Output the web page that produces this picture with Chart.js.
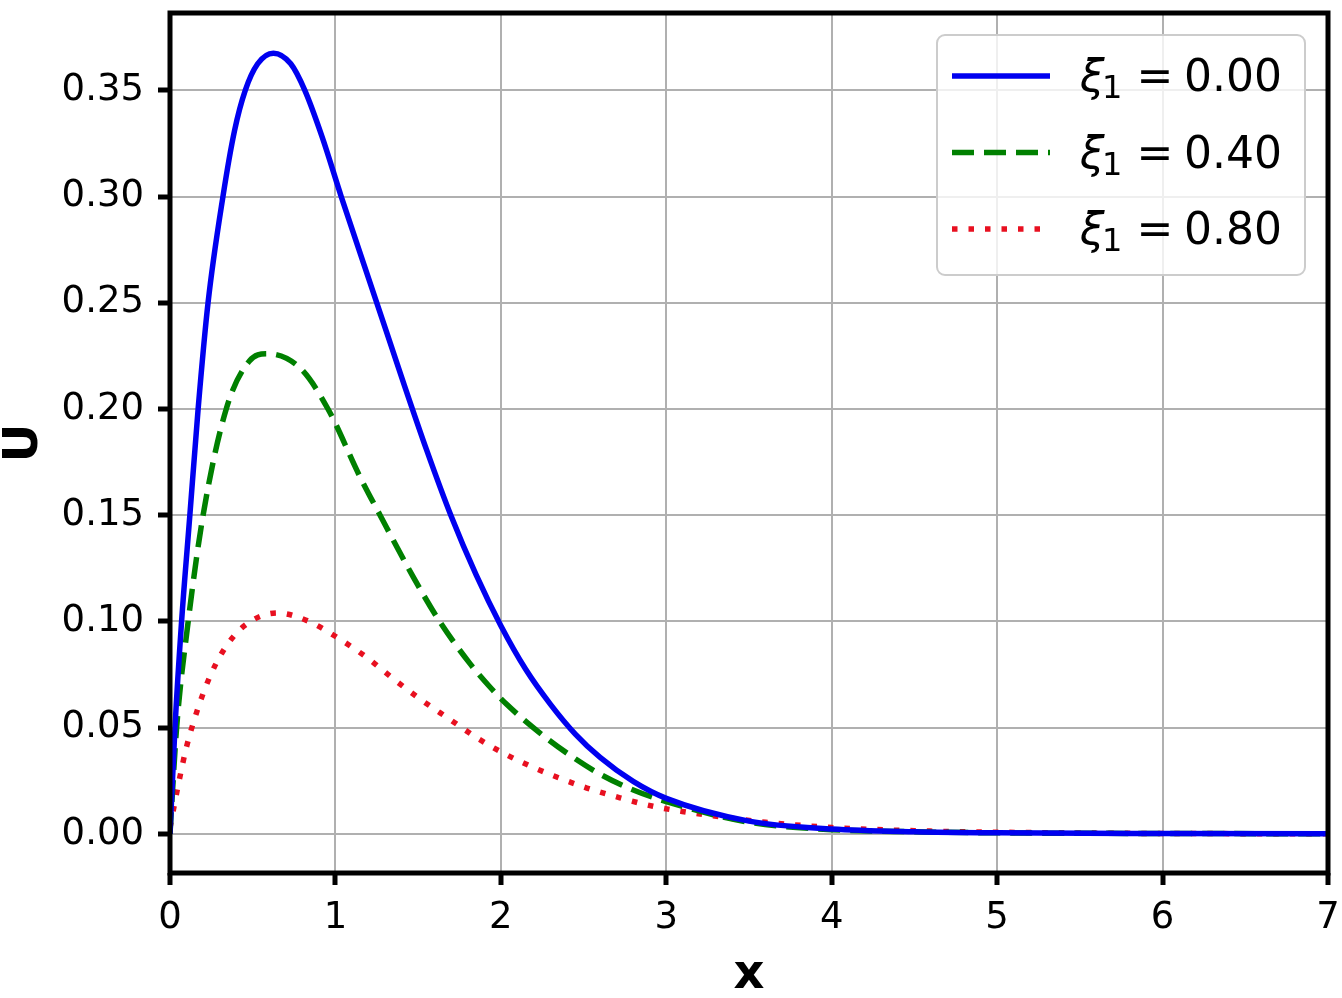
<!DOCTYPE html>
<html><head><meta charset="utf-8">
<script src="https://cdn.jsdelivr.net/npm/chart.js@4/dist/chart.umd.min.js"></script>
<style>html,body{margin:0;padding:0;background:#fff}#wrap{width:1342px;height:998px}</style>
</head><body><div id="wrap"><canvas id="c" width="1342" height="998"></canvas></div>
<script>
const xTicks = [0, 1, 2, 3, 4, 5, 6, 7];
const yTicks = [0, 0.05, 0.10, 0.15, 0.20, 0.25, 0.30, 0.35];
const xiValues = ['0.00', '0.40', '0.80'];

const blueX = [0, 0.03, 0.07, 0.12, 0.17, 0.23, 0.32, 0.39, 0.455, 0.53, 0.625, 0.73, 0.815, 0.92, 1.035, 1.25, 1.40, 1.55, 1.70, 1.85, 2.0, 2.15, 2.30, 2.45, 2.60, 2.80, 3.0, 3.5, 4.0, 4.5, 5.0, 6.0, 7.0];
const blueY = [0, 0.05, 0.10, 0.15, 0.20, 0.25, 0.30, 0.331, 0.35, 0.3625, 0.3675, 0.3625, 0.35, 0.328, 0.30, 0.25, 0.215, 0.181, 0.1495, 0.122, 0.098, 0.0775, 0.061, 0.047, 0.036, 0.0247, 0.0167, 0.006, 0.0023, 0.001, 0.0005, 0.0002, 0.0001];

const greenX = [0, 0.04, 0.11, 0.20, 0.34, 0.48, 0.59, 0.79, 0.955, 1.149, 1.27, 1.47, 1.63, 1.81, 1.93, 2.035, 2.22, 2.40, 2.58, 2.76, 3.0, 3.5, 4.0, 4.5, 5.0, 6.0, 7.0];
const greenY = [0, 0.05, 0.10, 0.15, 0.20, 0.2226, 0.226, 0.219, 0.20, 0.168, 0.15, 0.121, 0.10, 0.0805, 0.0695, 0.061, 0.0485, 0.038, 0.029, 0.022, 0.0152, 0.0055, 0.002, 0.001, 0.0005, 0.0002, 0.0001];

const redX = [0, 0.055, 0.10, 0.16, 0.23, 0.32, 0.45, 0.65, 0.84, 1.02, 1.19, 1.35, 1.52, 1.69, 1.86, 2.04, 2.22, 2.33, 2.52, 2.72, 2.92, 3.12, 3.33, 3.6, 4.0, 4.5, 5.0, 6.0, 7.0];
const redY = [0.003, 0.025, 0.041, 0.057, 0.072, 0.086, 0.098, 0.104, 0.100, 0.092, 0.083, 0.073, 0.063, 0.054, 0.045, 0.037, 0.0305, 0.027, 0.0216, 0.017, 0.013, 0.0103, 0.008, 0.0055, 0.003, 0.0015, 0.0008, 0.0002, 0.0001];

const FONT = '"DejaVu Sans", sans-serif';
const pts = (xs, ys) => xs.map((x, i) => ({x: x, y: ys[i]}));

const framePlugin = {
  id: 'frame',
  afterDatasetsDraw(chart) {
    const {ctx, chartArea: a} = chart;
    ctx.save();
    ctx.strokeStyle = '#000';
    ctx.lineWidth = 5;
    ctx.setLineDash([]);
    ctx.strokeRect(a.left, a.top, a.right - a.left, a.bottom - a.top);
    ctx.restore();
  }
};

const legendPlugin = {
  id: 'boxLegend',
  afterDraw(chart) {
    const ctx = chart.ctx;
    ctx.save();
    const bx = 937, by = 35, bw = 368, bh = 240, r = 8;
    ctx.beginPath();
    ctx.moveTo(bx + r, by);
    ctx.arcTo(bx + bw, by, bx + bw, by + bh, r);
    ctx.arcTo(bx + bw, by + bh, bx, by + bh, r);
    ctx.arcTo(bx, by + bh, bx, by, r);
    ctx.arcTo(bx, by, bx + bw, by, r);
    ctx.closePath();
    ctx.fillStyle = 'rgba(255,255,255,0.8)';
    ctx.fill();
    ctx.strokeStyle = '#cccccc';
    ctx.lineWidth = 2;
    ctx.stroke();
    chart.data.datasets.forEach((ds, i) => {
      const y = 76 + i * 76.5;
      ctx.strokeStyle = ds.borderColor;
      ctx.lineWidth = ds.borderWidth;
      ctx.lineCap = 'butt';
      ctx.setLineDash(ds.borderDash || []);
      ctx.beginPath();
      ctx.moveTo(952, y);
      ctx.lineTo(1050, y);
      ctx.stroke();
      ctx.setLineDash([]);
      ctx.fillStyle = '#000';
      ctx.textBaseline = 'alphabetic';
      ctx.textAlign = 'left';
      ctx.font = 'italic 44px ' + FONT;
      ctx.fillText('ξ', 1080, y + 15);
      ctx.font = '32px ' + FONT;
      ctx.fillText('1', 1102, y + 22);
      ctx.font = '44px ' + FONT;
      ctx.textAlign = 'center';
      ctx.fillText('=', 1155, y + 15);
      ctx.textAlign = 'left';
      ctx.fillText(xiValues[i], 1184, y + 15);
    });
    ctx.restore();
  }
};

const gridOpts = {color: '#b0b0b0', lineWidth: 2, tickColor: '#000', tickWidth: 5, tickLength: 12, drawTicks: true};

new Chart(document.getElementById('c'), {
  type: 'line',
  data: {
    datasets: [
      {label: 'ξ₁ = ' + xiValues[0], data: pts(blueX, blueY), borderColor: '#0000f0', borderWidth: 5.5, pointRadius: 0, cubicInterpolationMode: 'monotone', fill: false},
      {label: 'ξ₁ = ' + xiValues[1], data: pts(greenX, greenY), borderColor: '#008000', borderWidth: 5.5, borderDash: [22, 10], pointRadius: 0, cubicInterpolationMode: 'monotone', fill: false},
      {label: 'ξ₁ = ' + xiValues[2], data: pts(redX, redY), borderColor: '#e81020', borderWidth: 5.5, borderDash: [5.5, 11], pointRadius: 0, cubicInterpolationMode: 'monotone', fill: false}
    ]
  },
  options: {
    responsive: false,
    animation: false,
    devicePixelRatio: 1,
    layout: {padding: {top: 13, right: 14, left: 0, bottom: 0}},
    plugins: {legend: {display: false}, tooltip: {enabled: false}},
    scales: {
      x: {
        type: 'linear', min: 0, max: 7,
        afterBuildTicks: s => { s.ticks = xTicks.map(v => ({value: v})); },
        afterFit: s => { s.height = 125; s.paddingLeft = 0; s.paddingRight = 0; },
        grid: gridOpts,
        border: {display: false},
        ticks: {font: {family: FONT, size: 37}, color: '#000', padding: 11, maxRotation: 0, autoSkip: false, callback: v => String(v)},
        title: {display: true, text: 'x', color: '#000', font: {family: FONT, size: 48, weight: 'bold', lineHeight: 1}, padding: {top: 0, bottom: -2}}
      },
      y: {
        type: 'linear', min: -0.0184, max: 0.3864,
        afterBuildTicks: s => { s.ticks = yTicks.map(v => ({value: v})); },
        afterFit: s => { s.width = 170; s.paddingTop = 0; s.paddingBottom = 0; },
        grid: gridOpts,
        border: {display: false},
        ticks: {font: {family: FONT, size: 37}, color: '#000', padding: 14, autoSkip: false, callback: v => Number(v).toFixed(2)},
        title: {display: true, text: 'U', color: '#000', font: {family: FONT, size: 48, weight: 'bold', lineHeight: 1}, padding: {top: 1, bottom: 0}}
      }
    }
  },
  plugins: [framePlugin, legendPlugin]
});
</script>
</body></html>
